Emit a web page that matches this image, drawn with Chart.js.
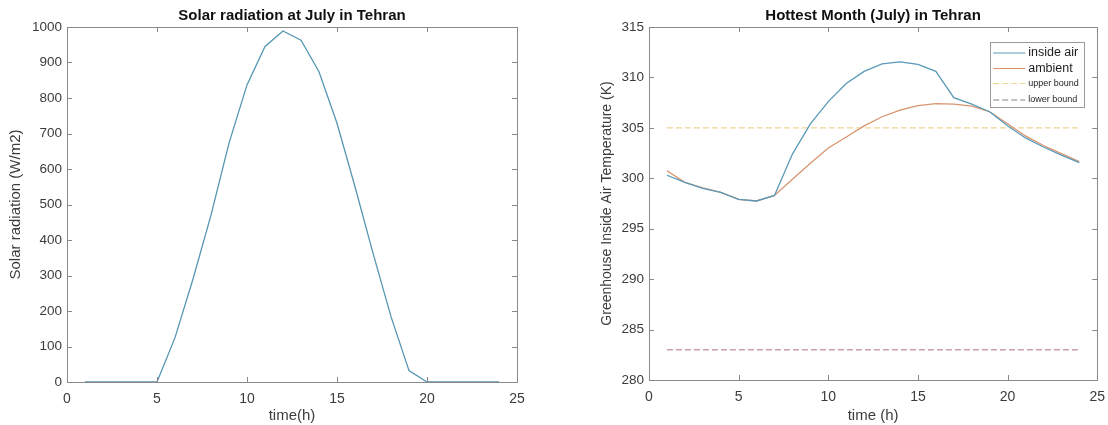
<!DOCTYPE html>
<html lang="en">
    <head>
        <meta charset="UTF-8" />
        <title>Tehran July Charts</title>
        <script src="https://cdn.jsdelivr.net/npm/chart.js"></script>
        <style>
            html, body {
                margin: 0;
                padding: 0;
                background: #ffffff;
                overflow: hidden;
            }
            .wrap {
                position: relative;
                width: 1108px;
                height: 425px;
                overflow: hidden;
            }
            .box {
                position: absolute;
                top: 0;
                height: 425px;
            }
            #solarBox { left: 0; width: 540px; }
            #tempBox { left: 566px; width: 548px; }
        </style>
    </head>
    <body>
        <div class="wrap">
            <div class="box" id="solarBox"><canvas id="solarChart"></canvas></div>
            <div class="box" id="tempBox"><canvas id="tempChart"></canvas></div>
        </div>

        <script>
            // hours of the day
            const hours = [1, 2, 3, 4, 5, 6, 7, 8, 9, 10, 11, 12, 13, 14, 15, 16, 17, 18, 19, 20, 21, 22, 23, 24];

            // solar radiation (W/m2)
            const solarRadiation = [0, 0, 0, 0, 0, 125, 290, 470, 673, 837, 945, 989, 963, 874, 729, 550, 363, 184, 32, 0, 0, 0, 0, 0];

            // temperatures (K)
            const insideAir = [300.3, 299.6, 299.0, 298.6, 297.9, 297.75, 298.3, 302.4, 305.4, 307.6, 309.4, 310.6, 311.35, 311.55, 311.3, 310.6, 308.0, 307.35, 306.6, 305.2, 304.0, 303.1, 302.3, 301.55];
            const ambient = [300.75, 299.6, 299.05, 298.6, 297.9, 297.75, 298.3, 299.9, 301.5, 303.0, 304.1, 305.2, 306.1, 306.75, 307.2, 307.4, 307.35, 307.15, 306.6, 305.4, 304.2, 303.25, 302.45, 301.65];
            const upperBound = 305;
            const lowerBound = 283;

            // axis ticks
            const xTicks = [0, 5, 10, 15, 20, 25];
            const solarTicks = [0, 100, 200, 300, 400, 500, 600, 700, 800, 900, 1000];
            const tempTicks = [280, 285, 290, 295, 300, 305, 310, 315];

            const FONT = "'Liberation Sans', Arial, Helvetica, sans-serif";
            const AXIS_COLOR = "#8a8a8a";
            const TEXT_COLOR = "#3c3c3c";

            const toPoints = (ys) => hours.map((h, i) => ({ x: h, y: ys[i] }));

            // MATLAB style box with inward ticks on all four sides
            const boxPlugin = {
                id: "matlabBox",
                afterDraw(chart) {
                    const { ctx, chartArea: a, scales } = chart;
                    ctx.save();
                    ctx.strokeStyle = AXIS_COLOR;
                    ctx.lineWidth = 1;
                    ctx.strokeRect(Math.round(a.left) + 0.5, Math.round(a.top) + 0.5,
                        Math.round(a.right - a.left), Math.round(a.bottom - a.top));
                    const len = 5;
                    ctx.beginPath();
                    scales.x.ticks.forEach((t) => {
                        const px = Math.round(scales.x.getPixelForValue(t.value)) + 0.5;
                        ctx.moveTo(px, a.bottom);
                        ctx.lineTo(px, a.bottom - len);
                        ctx.moveTo(px, a.top);
                        ctx.lineTo(px, a.top + len);
                    });
                    scales.y.ticks.forEach((t) => {
                        const py = Math.round(scales.y.getPixelForValue(t.value)) + 0.5;
                        ctx.moveTo(a.left, py);
                        ctx.lineTo(a.left + len, py);
                        ctx.moveTo(a.right, py);
                        ctx.lineTo(a.right - len, py);
                    });
                    ctx.stroke();
                    ctx.restore();
                },
            };

            // legend drawn inside the plot, top right
            const insideLegend = {
                id: "insideLegend",
                afterDraw(chart, args, opts) {
                    if (!opts || !opts.display) return;
                    const { ctx, chartArea: a } = chart;
                    const w = 94, h = 65;
                    const x0 = a.right - 13 - w;
                    const y0 = a.top + 15;
                    ctx.save();
                    ctx.fillStyle = "#ffffff";
                    ctx.fillRect(x0, y0, w, h);
                    ctx.strokeStyle = "#9a9a9a";
                    ctx.lineWidth = 1;
                    ctx.strokeRect(Math.round(x0) + 0.5, Math.round(y0) + 0.5, w, h);
                    const rowsY = [11, 26.5, 41.5, 58];
                    chart.data.datasets.forEach((ds, i) => {
                        const y = y0 + rowsY[i];
                        ctx.strokeStyle = ds.legendColor || ds.borderColor;
                        ctx.lineWidth = 1.2;
                        ctx.setLineDash(ds.borderDash || []);
                        ctx.beginPath();
                        ctx.moveTo(x0 + 3, y);
                        ctx.lineTo(x0 + 35, y);
                        ctx.stroke();
                        ctx.setLineDash([]);
                        ctx.fillStyle = "#1e1e1e";
                        ctx.textBaseline = "middle";
                        ctx.font = (i < 2 ? "12.5px " : "9px ") + FONT;
                        ctx.fillText(ds.label, x0 + 38, y);
                    });
                    ctx.restore();
                },
            };

            function baseOptions(cfg) {
                return {
                    responsive: true,
                    maintainAspectRatio: false,
                    animation: false,
                    layout: { padding: { right: cfg.padRight, left: 0, top: 0, bottom: 0 } },
                    elements: { point: { radius: 0 }, line: { tension: 0 } },
                    plugins: {
                        legend: { display: false },
                        tooltip: { enabled: false },
                        title: {
                            display: true,
                            text: cfg.title,
                            fullSize: false,
                            color: "#111111",
                            font: { family: FONT, size: 15, weight: "bold" },
                            padding: { top: 7, bottom: 2 },
                        },
                        insideLegend: { display: cfg.legend },
                    },
                    scales: {
                        x: {
                            type: "linear",
                            min: 0,
                            max: 25,
                            afterBuildTicks: (s) => { s.ticks = xTicks.map((v) => ({ value: v })); },
                            afterFit: (s) => { s.height = cfg.xHeight; },
                            grid: { display: false, drawTicks: false },
                            border: { display: false },
                            ticks: {
                                color: TEXT_COLOR,
                                font: { family: FONT, size: 14 },
                                padding: 9,
                                maxRotation: 0,
                                callback: (v) => String(v),
                            },
                            title: {
                                display: true,
                                text: cfg.xTitle,
                                color: TEXT_COLOR,
                                font: { family: FONT, size: 15 },
                                padding: { top: 0, bottom: 0 },
                            },
                        },
                        y: {
                            min: cfg.yMin,
                            max: cfg.yMax,
                            afterBuildTicks: (s) => { s.ticks = cfg.yTicks.map((v) => ({ value: v })); },
                            afterFit: (s) => { s.width = cfg.yWidth; },
                            grid: { display: false, drawTicks: false },
                            border: { display: false },
                            ticks: {
                                color: TEXT_COLOR,
                                font: { family: FONT, size: 13.5 },
                                padding: 5,
                                callback: (v) => String(v),
                            },
                            title: {
                                display: true,
                                text: cfg.yTitle,
                                color: TEXT_COLOR,
                                font: { family: FONT, size: cfg.yTitleSize },
                                padding: { top: cfg.yTitlePad, bottom: 0 },
                            },
                        },
                    },
                };
            }

            new Chart(document.getElementById("solarChart"), {
                type: "line",
                data: {
                    datasets: [
                        {
                            label: "Solar radiation",
                            data: toPoints(solarRadiation),
                            borderColor: "#5696b3",
                            borderWidth: 1.3,
                            fill: false,
                        },
                    ],
                },
                options: baseOptions({
                    title: "Solar radiation at July in Tehran",
                    xTitle: "time(h)",
                    yTitle: "Solar radiation (W/m2)",
                    yMin: 0,
                    yMax: 1000,
                    yTicks: solarTicks,
                    yWidth: 67,
                    xHeight: 43,
                    padRight: 23,
                    yTitlePad: 7,
                    yTitleSize: 15,
                    legend: false,
                }),
                plugins: [boxPlugin, insideLegend],
            });

            new Chart(document.getElementById("tempChart"), {
                type: "line",
                data: {
                    datasets: [
                        {
                            label: "inside air",
                            data: toPoints(insideAir),
                            borderColor: "#5a9ab8",
                            borderWidth: 1.3,
                            fill: false,
                        },
                        {
                            label: "ambient",
                            data: toPoints(ambient),
                            borderColor: "#d8956f",
                            borderWidth: 1.3,
                            fill: false,
                        },
                        {
                            label: "upper bound",
                            data: toPoints(hours.map(() => upperBound)),
                            borderColor: "#eed594",
                            borderWidth: 1.3,
                            borderDash: [6, 3],
                            fill: false,
                        },
                        {
                            label: "lower bound",
                            data: toPoints(hours.map(() => lowerBound)),
                            borderColor: "#c9a2a6",
                            legendColor: "#8a7f8e",
                            borderWidth: 1.3,
                            borderDash: [6, 3],
                            fill: false,
                        },
                    ],
                },
                options: baseOptions({
                    title: "Hottest Month (July) in Tehran",
                    xTitle: "time (h)",
                    yTitle: "Greenhouse Inside Air Temperature (K)",
                    yMin: 280,
                    yMax: 315,
                    yTicks: tempTicks,
                    yWidth: 83,
                    xHeight: 45,
                    padRight: 7,
                    yTitlePad: 33,
                    yTitleSize: 14,
                    legend: true,
                }),
                plugins: [boxPlugin, insideLegend],
            });
        </script>
    </body>
</html>
